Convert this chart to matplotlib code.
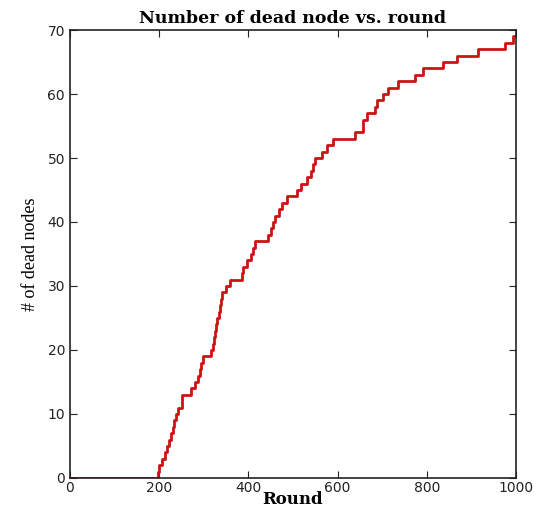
import numpy as np
import matplotlib
matplotlib.use("Agg")
import matplotlib.pyplot as plt

# Données : round à partir duquel le nombre de noeuds morts change
rounds = [0, 198, 200, 207, 213, 218, 222, 226, 230, 234, 238, 242, 251,
          272, 280, 287, 291, 294, 298, 316, 321, 323, 325, 327, 329, 334,
          337, 339, 341, 350, 359, 386, 388, 398, 406, 411, 415, 445, 450,
          455, 460, 468, 476, 486, 508, 518, 531, 540, 545, 550, 565, 576,
          590, 639, 656, 658, 666, 685, 688, 702, 713, 735, 773, 791, 836,
          868, 915, 975, 993, 1000]
dead = [0, 1, 2, 3, 4, 5, 6, 7, 8, 9, 10, 11, 13,
        14, 15, 16, 17, 18, 19, 20, 21, 22, 23, 24, 25, 26,
        27, 28, 29, 30, 31, 32, 33, 34, 35, 36, 37, 38, 39,
        40, 41, 42, 43, 44, 45, 46, 47, 48, 49, 50, 51, 52,
        53, 54, 55, 56, 57, 58, 59, 60, 61, 62, 63, 64, 65,
        66, 67, 68, 69, 69]

xticks = [0, 200, 400, 600, 800, 1000]
yticks = [0, 10, 20, 30, 40, 50, 60, 70]

fig = plt.figure(figsize=(5.42, 5.09), dpi=100)
ax = fig.add_axes([0.129, 0.061, 0.823, 0.880])

ax.step(rounds, dead, where="post", color="#cc1414", linewidth=2)

ax.set_xlim(0, 1000)
ax.set_ylim(0, 70)
ax.set_xticks(xticks)
ax.set_yticks(yticks)
ax.tick_params(direction="in", top=True, right=True, length=5,
               labelsize=10, colors="#222222")
ax.tick_params(axis="x", pad=2)
for sp in ax.spines.values():
    sp.set_linewidth(1.2)
    sp.set_color("#222222")

ax.set_title("Number of dead node vs. round", fontfamily="DejaVu Serif",
             fontweight="bold", fontsize=12.5, pad=5)
ax.set_xlabel("Round", fontfamily="DejaVu Serif", fontweight="bold",
              fontsize=12, labelpad=-3)
ax.set_ylabel("# of dead nodes", fontfamily="Liberation Serif",
              fontsize=13, labelpad=6)

fig.savefig("out.png", dpi=100, facecolor="white")
